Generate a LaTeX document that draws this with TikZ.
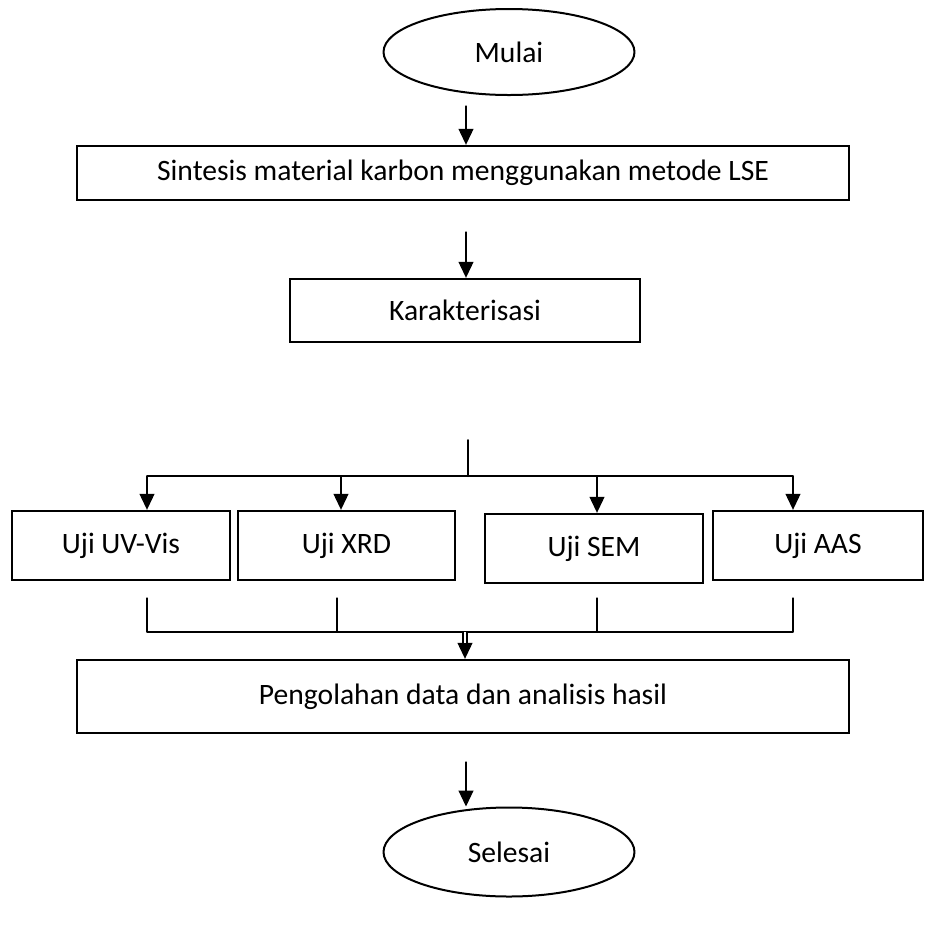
\documentclass[tikz,border=0pt]{standalone}
\usepackage{fontspec}
\setmainfont{Carlito}
\usetikzlibrary{arrows.meta,shapes.geometric}

\begin{document}
\begin{tikzpicture}[line cap=round,line join=round,x=0.5pt,y=-0.5pt,
  >={Triangle[width=7.5pt,length=8pt]},
  font=\fontsize{14.8}{17}\selectfont,
  proses/.style={draw,line width=1.2pt,inner sep=0pt,line join=miter},
  terminal/.style={draw,ellipse,line width=1pt,inner sep=0pt,minimum width=125.5pt,minimum height=43pt},
  conn/.style={line width=0.55pt}]
  \useasboundingbox (0,0) rectangle (925,949);
  % langkah utama
  \node[terminal] (mulai) at (509,52) {Mulai};
  \node[proses,minimum width=386pt,minimum height=27pt] (sintesis) at (463,173) {Sintesis material karbon menggunakan metode LSE};
  \node[proses,minimum width=175pt,minimum height=31.5pt] (karakter) at (465,310.5) {Karakterisasi};
  % uji
  \node[proses,minimum width=109pt,minimum height=34.5pt] (uv) at (121,545.5) {Uji UV-Vis};
  \node[proses,minimum width=108.5pt,minimum height=34.5pt] (xrd) at (346.5,545.5) {Uji XRD};
  \node[proses,minimum width=109pt,minimum height=34.5pt] (sem) at (594,548.5) {Uji SEM};
  \node[proses,minimum width=105pt,minimum height=34.5pt] (aas) at (818,545.5) {Uji AAS};
  \node[proses,minimum width=386pt,minimum height=36.5pt] (olah) at (463,696.5) {Pengolahan data dan analisis hasil};
  \node[terminal,minimum height=44.5pt] (selesai) at (509,852) {Selesai};
  % titik bantu
  \coordinate (p1) at (466,106);
  \coordinate (p2) at (466,232);
  \coordinate (p3) at (466,762);
  \coordinate (cab) at (468,440);
  \coordinate (cab2) at (468,476);
  \coordinate (b1) at (147,476);
  \coordinate (b2) at (341,476);
  \coordinate (b3) at (597,476);
  \coordinate (b4) at (793,476);
  \coordinate (m1) at (147,598);
  \coordinate (m2) at (337,598);
  \coordinate (m3) at (597,598);
  \coordinate (m4) at (793,598);
  \coordinate (mg) at (465,632);
  % panah
  \draw[conn,->] (p1) -- (p1 |- sintesis.north);
  \draw[conn,->] (p2) -- (p2 |- karakter.north);
  \draw[line width=1pt] (cab) -- (cab2);
  \draw[conn] (b1) -- (b4);
  \foreach \b/\n in {b1/uv,b2/xrd,b3/sem,b4/aas}
    \draw[conn,->] (\b) -- (\b |- \n.north);
  \draw[conn] (m1) |- (mg) -| (m4);
  \foreach \m in {m2,m3}
    \draw[conn] (\m) -- (\m |- mg);
  \draw[conn,->] (mg) -- (mg |- olah.north);
  \draw[line width=0.6pt,double,double distance=1.4pt,line cap=butt,shorten >=8pt] (mg) -- (mg |- olah.north);
  \draw[conn,->] (p3) -- (p3 |- selesai.north);
\end{tikzpicture}
\end{document}
